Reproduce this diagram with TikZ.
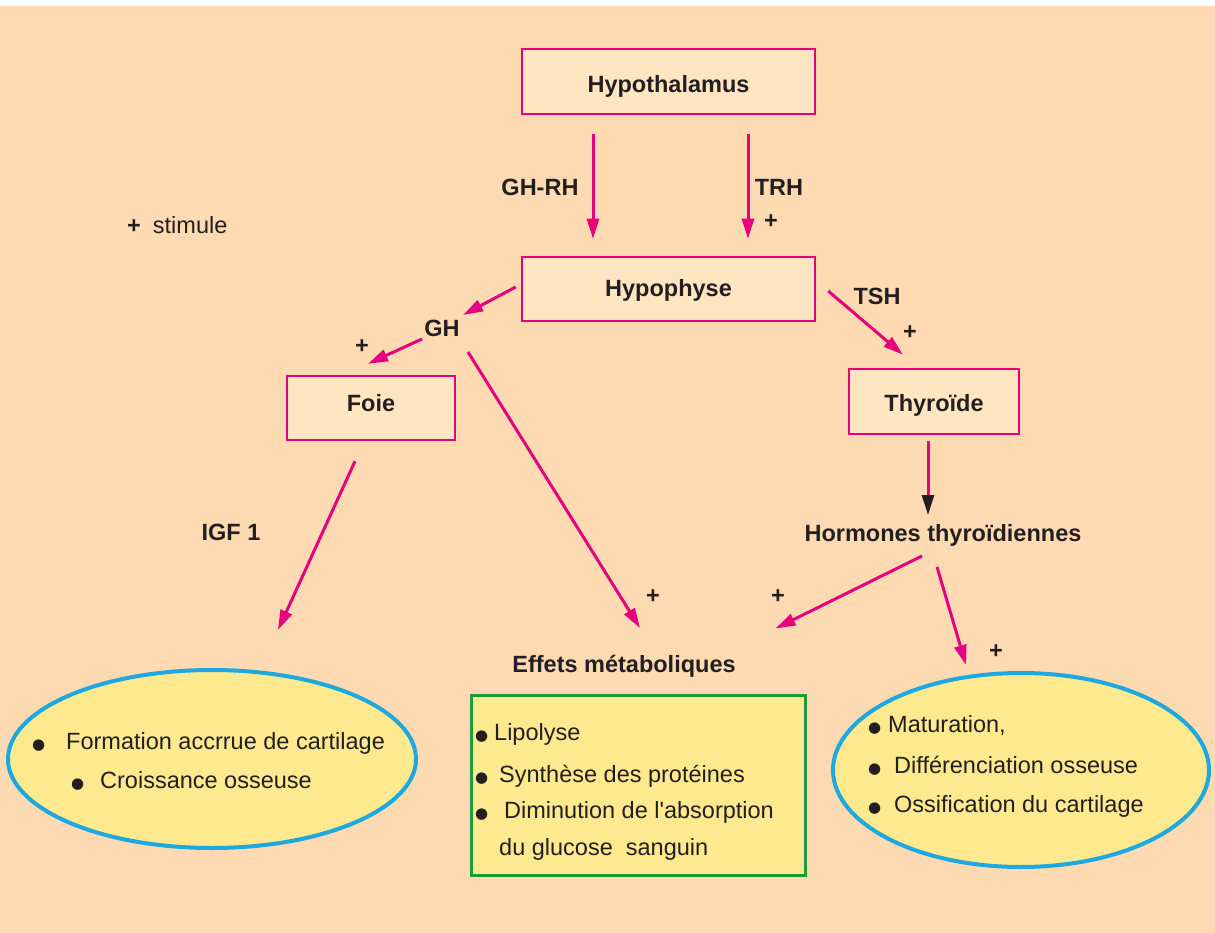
\documentclass[tikz,border=0pt]{standalone}
\usepackage{fontspec}
\setmainfont{Liberation Sans}
\newfontfamily\dejavu{DejaVu Sans}
\usepackage{tikz}
\usetikzlibrary{arrows.meta,shapes.geometric}

\definecolor{fond}{RGB}{253,218,177}
\definecolor{boite}{RGB}{255,229,192}
\definecolor{rose}{RGB}{230,0,126}
\definecolor{jaune}{RGB}{254,233,143}
\definecolor{bleu}{RGB}{29,168,224}
\definecolor{vert}{RGB}{26,154,60}
\definecolor{encre}{RGB}{35,31,32}

\newcommand{\puce}{{\dejavu\fontsize{15}{15}\selectfont ●}}

\begin{document}
\begin{tikzpicture}[x=1pt,y=-1pt,>={Triangle[length=20pt,width=12pt]},
  txt/.style={font=\fontsize{23.5}{28}\selectfont,text=encre,inner sep=0pt},
  lbl/.style={txt,font=\fontsize{23.5}{28}\selectfont\bfseries},
  org/.style={lbl,rectangle,draw=rose,line width=2.5pt,fill=boite,minimum height=64pt,text depth=0pt},
  bulle/.style={ellipse,draw=bleu,line width=4pt,fill=jaune,inner sep=0pt},
  ligne/.style={txt,anchor=base west},
  fl/.style={->,rose,line width=3pt}]

\useasboundingbox (0,0) rectangle (1215,933);
\fill[white] (0,0) rectangle (1215,6);
\fill[fond] (0,6) rectangle (1215,933);

% organes
\node[org,minimum width=293pt,minimum height=65pt,text height=23pt] (hypoth) at (668.5,81.5) {Hypothalamus};
\node[org,minimum width=293pt,text height=16pt] (hypoph) at (668.5,289) {Hypophyse};
\node[org,minimum width=168pt,text height=6pt] (foie) at (371,408) {Foie};
\node[org,minimum width=170pt,minimum height=65pt,text height=20pt] (thyro) at (934,401.5) {Thyroïde};

\node[lbl] (gh) at (442,328) {GH};
\node[lbl] (horm) at (943,535) {Hormones thyroïdiennes};
\node[lbl] (effets) at (624,666) {Effets métaboliques};

% effets
\node[rectangle,draw=vert,line width=3pt,fill=jaune,minimum width=334pt,minimum height=180pt] (effbox) at (638,785) {};
\node[bulle,minimum width=408pt,minimum height=178pt] (ellG) at (212,759) {};
\node[bulle,minimum width=376pt,minimum height=194pt] (ellD) at (1021,770) {};

\node[ligne] (g1) at (66,749) {\llap{\puce\hspace{21pt}}Formation accrrue de cartilage};
\node[ligne] (g2) at (100,788) {\llap{\puce\hspace{16pt}}Croissance osseuse};

\node[ligne] (c1) at (494,740) {\llap{\puce\hspace{6pt}}Lipolyse};
\node[ligne] (c2) at (499,782) {\llap{\puce\hspace{11pt}}Synthèse des protéines};
\node[ligne] (c3) at (504,818) {\llap{\puce\hspace{16pt}}Diminution de l\textquotesingle absorption};
\node[ligne] (c4) at (499,855) {du glucose\ \ sanguin};

\node[ligne] (d1) at (888,732) {\llap{\puce\hspace{7pt}}Maturation,};
\node[ligne] (d2) at (894,773) {\llap{\puce\hspace{13pt}}Différenciation osseuse};
\node[ligne] (d3) at (894,812) {\llap{\puce\hspace{13pt}}Ossification du cartilage};

% hormones et signes
\node[txt,anchor=west] (legende) at (127,225) {\textbf{+}\hspace{12pt}stimule};
\node[lbl] (ghrh) at (540,187) {GH-RH};
\node[lbl] (trh) at (779,187) {TRH};
\node[lbl] (tsh) at (877,296) {TSH};
\node[lbl] (igf) at (231,532) {IGF 1};
\node[lbl] (s1) at (771,222) {+};
\node[lbl] (s2) at (910,333) {+};
\node[lbl] (s3) at (362,347) {+};
\node[lbl] (s4) at (653,597) {+};
\node[lbl] (s5) at (778,597) {+};
\node[lbl] (s6) at (996,652) {+};

\draw[fl] ([shift={(-75.5,19)}]hypoth.south) -- ([shift={(-75.5,-17)}]hypoph.north);
\draw[fl] ([shift={(79.5,19)}]hypoth.south) -- ([shift={(79.5,-17)}]hypoph.north);
\draw[fl] ([shift={(-5,-2)}]hypoph.west) -- ([shift={(21,-13)}]gh.center);
\draw[fl] ([shift={(-20,11)}]gh.center) -- ([shift={(-3,-11)}]foie.north);
\draw[fl] ([shift={(26,24)}]gh.center) -- ([shift={(16,-38)}]effets.center);
\draw[fl] ([shift={(12,2)}]hypoph.east) -- ([shift={(-31,-13)}]thyro.north);
\draw[rose,line width=3pt,-{Triangle[length=20pt,width=12pt,color=encre]}]
  ([shift={(-6,6)}]thyro.south) -- ([shift={(-15,-20)}]horm.center);
\draw[fl] ([shift={(-21,21)}]horm.center) -- ([shift={(-31,-65)}]effbox.north east);
\draw[fl] ([shift={(-6,32)}]horm.center) -- ([shift={(-55,-6)}]ellD.north);
\draw[fl] ([shift={(-16,20)}]foie.south) -- ([shift={(66,-38)}]ellG.north);
\end{tikzpicture}
\end{document}
